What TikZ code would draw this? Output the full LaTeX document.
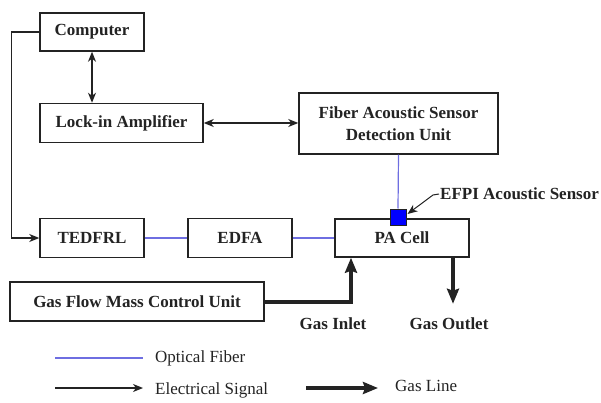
\documentclass[tikz,border=0pt]{standalone}
\usepackage{fontspec}
\setmainfont{Liberation Serif}
\usetikzlibrary{arrows.meta}
\definecolor{fiberblue}{RGB}{110,110,225}
\definecolor{inkgray}{RGB}{35,35,35}

\tikzset{
  unit/.style={draw=inkgray,line width=1.5pt,text=inkgray,font=\fontsize{17}{20}\selectfont\bfseries,inner sep=2pt},
  fiber/.style={fiberblue,line width=1.2pt},
  sigtip/.tip={Stealth[length=10pt,width=8pt,inset=3pt]},
  signal/.style={inkgray,line width=1.3pt,-sigtip},
  bothways/.style={inkgray,line width=1.3pt,sigtip-sigtip},
  gasline/.style={inkgray,line width=4pt,-{Stealth[length=15pt,width=12pt,inset=2pt]}},
  tag/.style={text=inkgray,font=\fontsize{17}{20}\selectfont\bfseries,inner sep=1pt},
  legendtext/.style={text=inkgray,font=\fontsize{17}{20}\selectfont,anchor=west,inner sep=0pt}
}

\begin{document}
\begin{tikzpicture}[x=1pt,y=-1pt]
  \useasboundingbox (0,0) rectangle (601,403);

  % units
  \node[unit,minimum width=104pt,minimum height=38pt] (comp) at (92,32) {Computer};
  \node[unit,minimum width=163pt,minimum height=39pt] (lock) at (121.5,123) {Lock-in Amplifier};
  \node[unit,minimum width=199pt,minimum height=61pt,align=center] (fasdu) at (398.5,123.5)
    {Fiber Acoustic Sensor\\[2pt]Detection Unit};
  \node[unit,minimum width=104pt,minimum height=39pt] (tedfrl) at (92,238) {TEDFRL};
  \node[unit,minimum width=104pt,minimum height=39pt] (edfa) at (240,238) {EDFA};
  \node[unit,minimum width=134pt,minimum height=38pt] (pacell) at (402,238) {PA Cell};
  \node[unit,minimum width=254pt,minimum height=39pt] (gfmcu) at (137,301.5) {Gas Flow Mass Control Unit};
  \node[draw=inkgray,line width=1pt,fill=blue,minimum size=16pt,inner sep=0pt] (sensor) at (398,217) {};

  % electrical
  \draw[signal] (comp.west) -- ++(-28,0) |- (tedfrl.west);
  \draw[bothways] (comp.south) -- (comp.south |- lock.north);
  \draw[bothways] (lock.east) -- (lock.east -| fasdu.west);

  % optical fiber
  \draw[fiber] (tedfrl.east) -- (edfa.west);
  \draw[fiber] (edfa.east) -- (pacell.west);
  \draw[fiber] (fasdu.south) -- (sensor.north);

  \node[tag,anchor=west] (efpi) at (439,194) {EFPI Acoustic Sensor};
  \draw[signal,line width=1pt] (efpi.west) -- ++(-6,1) -- ([shift={(1,-3)}]sensor.east);

  % gas
  \draw[gasline] (gfmcu.east) -| ([xshift=-51pt]pacell.south);
  \draw[gasline] ([xshift=51pt]pacell.south) -- ++(0,46);
  \node[tag] (inlet) at (333,324) {Gas Inlet};
  \node[tag] (outlet) at (449,324) {Gas Outlet};

  % legend
  \coordinate (fa) at (55,358);
  \coordinate (fb) at (143,358);
  \draw[fiber] (fa) -- (fb);
  \node[legendtext] (fibertxt) at (155,358) {Optical Fiber};
  \coordinate (ea) at (55,388);
  \coordinate (eb) at (143,388);
  \draw[signal] (ea) -- (eb);
  \node[legendtext] (sigtxt) at (155,390) {Electrical Signal};
  \coordinate (ga) at (306,388);
  \coordinate (gb) at (378,388);
  \draw[gasline,line width=3.5pt] (ga) -- (gb);
  \node[legendtext] (gastxt) at (395,386) {Gas Line};
\end{tikzpicture}
\end{document}
